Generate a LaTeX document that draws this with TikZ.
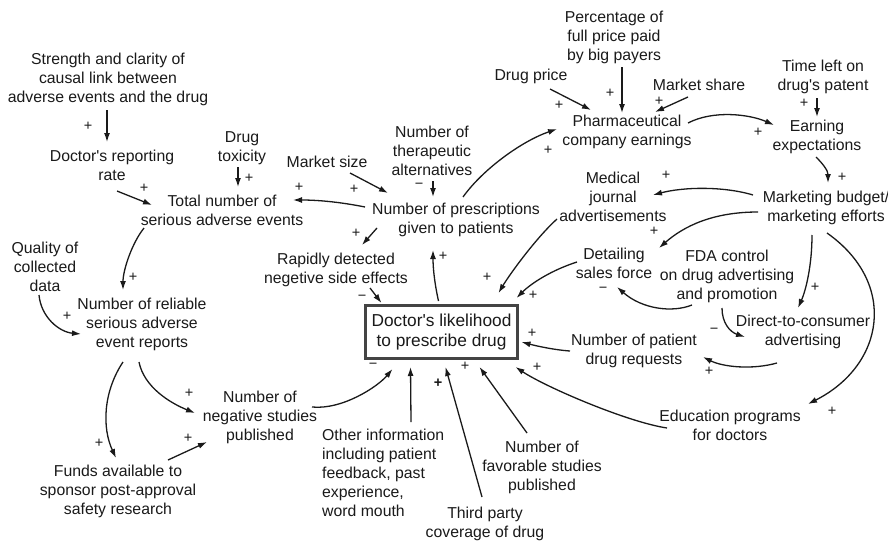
\documentclass[tikz,border=0pt]{standalone}
\usepackage{fontspec}
\setmainfont{Liberation Sans}[Ligatures=TeXOff]
\usetikzlibrary{arrows.meta}
\definecolor{ink}{HTML}{1A1A1A}
\definecolor{boxc}{HTML}{444444}
\begin{document}
\begin{tikzpicture}[x=1pt,y=-1pt,
  lbl/.style={align=center, inner sep=1pt, text=ink, font=\fontsize{15.8}{19}\selectfont},
  sgn/.style={inner sep=0pt, text=ink, font=\fontsize{14.5}{14.5}\selectfont},
  arr/.style={draw=ink, line width=1.3pt, -{Latex[length=9pt,width=6pt]}},
]
\useasboundingbox[fill=white] (0,0) rectangle (888,543);

% ---------- nodes ----------
\node[lbl] (str) at (108,79) {Strength and clarity of\\causal link between\\adverse events and the drug};
\node[lbl] (rep) at (112,165) {Doctor's reporting\\rate};
\node[lbl] (tox) at (242,148) {Drug\\toxicity};
\node[lbl] (tot) at (222,210) {Total number of\\serious adverse events};
\node[lbl] (qual) at (45,267) {Quality of\\collected\\data};
\node[lbl] (rel) at (142,324) {Number of reliable\\serious adverse\\event reports};
\node[lbl] (neg) at (260,417) {Number of\\negative studies\\published};
\node[lbl] (fund) at (118,491) {Funds available to\\sponsor post-approval\\safety research};
\node[lbl, align=left, anchor=west] (other) at (321,472.5) {Other information\\including patient\\feedback, past\\experience,\\word mouth};
\node[lbl] (third) at (485,524) {Third party\\coverage of drug};
\node[lbl] (fav) at (542,467) {Number of\\favorable studies\\published};
\node[lbl] (edu) at (730,425) {Education programs\\for doctors};
\node[lbl, font=\fontsize{17.3}{20.5}\selectfont, draw=boxc, line width=2.8pt, minimum width=152pt, minimum height=53pt] (box) at (441.5,332) {Doctor's likelihood\\to prescribe drug};
\node[lbl] (rx) at (456,220) {Number of prescriptions\\given to patients};
\node[lbl] (mkt) at (327,162) {Market size};
\node[lbl] (alt) at (432,151) {Number of\\therapeutic\\alternatives};
\node[lbl] (rap) at (336,270) {Rapidly detected\\negetive side effects};
\node[lbl] (price) at (531,76) {Drug price};
\node[lbl] (pct) at (614,37) {Percentage of\\full price paid\\by big payers};
\node[lbl] (pharma) at (627,132) {Pharmaceutical\\company earnings};
\node[lbl] (share) at (699,85) {Market share};
\node[lbl] (time) at (823,77) {Time left on\\drug's patent};
\node[lbl] (earn) at (817,137) {Earning\\expectations};
\node[lbl] (mb) at (826,208) {Marketing budget/\\marketing efforts};
\node[lbl] (med) at (613,197) {Medical\\journal\\advertisements};
\node[lbl] (det) at (614,263) {Detailing\\sales force};
\node[lbl] (fda) at (727,276) {FDA control\\on drug advertising\\and promotion};
\node[lbl] (dtc) at (803,332) {Direct-to-consumer\\advertising};
\node[lbl] (req) at (634,351) {Number of patient\\drug requests};

% ---------- connectors ----------
\draw[arr] ([shift={(-1,31)}]str.center) -- ([shift={(-5,-23)}]rep.center);
\draw[arr] ([shift={(-4,19)}]tox.center) -- ([shift={(16,-23)}]tot.center);
\draw[arr] ([shift={(5,26)}]rep.center) -- ([shift={(-70,-5)}]tot.center);
\draw[arr] ([shift={(-91,-13)}]rx.center) .. controls +(-25,-5) and +(25,0) .. ([shift={(71,-10)}]tot.center);
\draw[arr] ([shift={(23,11)}]mkt.center) -- ([shift={(-68,-27)}]rx.center);
\draw[arr] ([shift={(1,30)}]alt.center) -- ([shift={(-23,-23)}]rx.center);
\draw[arr] ([shift={(-79,8)}]rx.center) -- ([shift={(26,-25)}]rap.center);
\draw[arr] ([shift={(34,18)}]rap.center) -- ([shift={(-60,-29)}]box.center);
\draw[arr] ([shift={(-3,-31)}]box.center) .. controls +(-4,-18) and +(0,18) .. ([shift={(-23,30)}]rx.center);
\draw[arr] ([shift={(7,-23)}]rx.center) .. controls +(20,-28) and +(-35,12) .. ([shift={(-70,-3)}]pharma.center);
\draw[arr] ([shift={(19,13)}]price.center) -- ([shift={(-36,-22)}]pharma.center);
\draw[arr] ([shift={(8,30)}]pct.center) -- ([shift={(-5,-19)}]pharma.center);
\draw[arr] ([shift={(-11,12)}]share.center) -- ([shift={(28,-20)}]pharma.center);
\draw[arr] ([shift={(61,-9)}]pharma.center) .. controls +(25,-13) and +(-25,-11) .. ([shift={(-43,-12)}]earn.center);
\draw[arr] ([shift={(-6,21)}]time.center) -- ([shift={(0,-20)}]earn.center);
\draw[arr] ([shift={(-1,20)}]earn.center) .. controls +(8,8) and +(0,-12) .. ([shift={(2,-25)}]mb.center);
\draw[arr] ([shift={(-73,-13)}]mb.center) .. controls +(-30,-9) and +(30,-8) .. ([shift={(40,-2)}]med.center);
\draw[arr] ([shift={(-68,4)}]mb.center) .. controls +(-45,0) and +(25,-22) .. ([shift={(45,-15)}]det.center);
\draw[arr] ([shift={(-35,29)}]fda.center) .. controls +(-20,8) and +(25,22) .. ([shift={(3,24)}]det.center);
\draw[arr] ([shift={(-5,32)}]fda.center) .. controls +(0,15) and +(-15,-5) .. ([shift={(-58,5)}]dtc.center);
\draw[arr] ([shift={(-14,27)}]mb.center) .. controls +(0,30) and +(8,-18) .. ([shift={(-5,-24)}]dtc.center);
\draw[arr] ([shift={(-26,31)}]dtc.center) .. controls +(-25,7) and +(20,10) .. ([shift={(69,6)}]req.center);
\draw[arr] ([shift={(-64,0)}]req.center) .. controls +(-15,-1) and +(15,4) .. ([shift={(80,10)}]box.center);
\draw[arr] ([shift={(-56,22)}]med.center) .. controls +(-20,18) and +(12,-20) .. ([shift={(57,-39)}]box.center);
\draw[arr] ([shift={(-37,-1)}]det.center) .. controls +(-25,8) and +(15,-15) .. ([shift={(75,-34)}]box.center);
\draw[arr] ([shift={(52,-10)}]neg.center) .. controls +(30,3) and +(-15,18) .. ([shift={(-49,37)}]box.center);
\draw[arr] ([shift={(90,-50.5)}]other.west) -- ([shift={(-31,35)}]box.center);
\draw[arr] ([shift={(-3,-27)}]third.center) -- ([shift={(4,35)}]box.center);
\draw[arr] ([shift={(-15,-34)}]fav.center) -- ([shift={(38,35)}]box.center);
\draw[arr] ([shift={(-63,3)}]edu.center) .. controls +(-40,-6) and +(30,20) .. ([shift={(74,35)}]box.center);
\draw[arr] ([shift={(1,25)}]mb.center) .. controls +(71,50) and +(77,-39) .. ([shift={(78,-21)}]edu.center);
\draw[arr] ([shift={(-19,38)}]rel.center) .. controls +(-20,30) and +(-14,-30) .. ([shift={(-2,-33)}]fund.center);
\draw[arr] ([shift={(-3,38)}]rel.center) .. controls +(5,25) and +(-25,-10) .. ([shift={(-65,-4)}]neg.center);
\draw[arr] ([shift={(50,-31)}]fund.center) -- ([shift={(-53,25)}]neg.center);
\draw[arr] ([shift={(-6,28)}]qual.center) .. controls +(2,22) and +(-22,-2) .. ([shift={(-61,10)}]rel.center);
\draw[arr] ([shift={(-78,18)}]tot.center) .. controls +(-12,15) and +(0,-20) .. ([shift={(-19,-34)}]rel.center);

% ---------- polarity signs ----------
\node[sgn] (s1) at (88,126) {+};
\node[sgn] (s2) at (249,178) {+};
\node[sgn] (s3) at (144,188) {+};
\node[sgn] (s4) at (299,187) {+};
\node[sgn] (s5) at (354,189) {+};
\node[sgn] (s6) at (419,185.5) {−};
\node[sgn] (s7) at (356,233) {+};
\node[sgn] (s8) at (362,298) {−};
\node[sgn] (s9) at (443,256) {+};
\node[sgn] (s10) at (548,150) {+};
\node[sgn] (s11) at (559,105) {+};
\node[sgn] (s12) at (610,93) {+};
\node[sgn] (s13) at (659,101) {+};
\node[sgn] (s14) at (758,132) {+};
\node[sgn] (s15) at (804,103) {+};
\node[sgn] (s16) at (842,177) {+};
\node[sgn] (s17) at (666,175) {+};
\node[sgn] (s18) at (654,231) {+};
\node[sgn] (s19) at (603,290) {−};
\node[sgn] (s20) at (714,331) {−};
\node[sgn] (s21) at (815,287) {+};
\node[sgn] (s22) at (709,371) {+};
\node[sgn] (s23) at (532,333) {+};
\node[sgn] (s24) at (487,277) {+};
\node[sgn] (s25) at (533,295) {+};
\node[sgn] (s26) at (832,411) {+};
\node[sgn] (s27) at (537,367) {+};
\node[sgn] (s28) at (465,366) {+};
\node[sgn, font=\fontsize{14.5}{14.5}\selectfont\bfseries] (s29) at (438,383) {+};
\node[sgn] (s30) at (373,366) {−};
\node[sgn] (s31) at (133,277) {+};
\node[sgn] (s32) at (67,316) {+};
\node[sgn] (s33) at (99,443) {+};
\node[sgn] (s34) at (189,393) {+};
\node[sgn] (s35) at (188,438) {+};
\end{tikzpicture}
\end{document}
